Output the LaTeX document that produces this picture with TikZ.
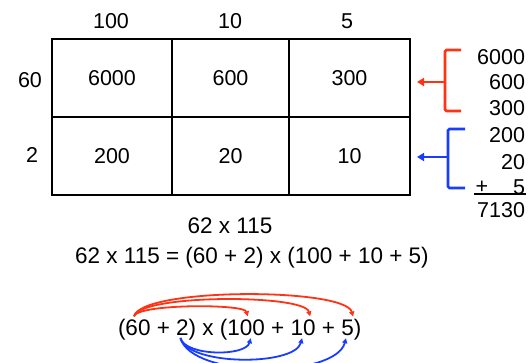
\documentclass[tikz,border=0pt]{standalone}
\usepackage{fontspec}
\setmainfont{Liberation Sans}
\usetikzlibrary{arrows.meta,calc}
\definecolor{rd}{RGB}{255,51,20}
\definecolor{bl}{RGB}{25,60,255}
\begin{document}
\begin{tikzpicture}[x=1pt,y=1pt,
  every node/.style={font=\fontsize{21.5}{25}\selectfont, inner sep=0pt, outer sep=0pt},
  big/.style={font=\fontsize{22.5}{26}\selectfont},
  cell/.style={draw, line width=2pt, minimum height=78pt},
  brk/.style={line width=2.8pt, rounded corners=1.5pt},
  tip/.style={-{Triangle[length=7pt,width=8pt]}},
  arc/.style={line width=1.8pt, -{Triangle[length=5pt,width=5pt]}},
  seg/.style={anchor=base west, big}]
\useasboundingbox (0,0) rectangle (529,-363);
% grid
\node[cell, minimum width=120pt] (c11) at (112,-78) {6000};
\node[cell, minimum width=117pt] (c12) at (230.5,-78) {600};
\node[cell, minimum width=121pt] (c13) at (349.5,-78) {300};
\node[cell, minimum width=120pt] (c21) at (112,-156) {200};
\node[cell, minimum width=117pt] (c22) at (230.5,-156) {20};
\node[cell, minimum width=121pt] (c23) at (349.5,-156) {10};
% headers
\node (h1) at (111,-21) {100};
\node (h2) at (230,-21) {10};
\node (h3) at (347,-21) {5};
\node (r1) at (30,-80) {60};
\node (r2) at (32,-155) {2};
% right column
\node[anchor=east] (t1) at (525,-57) {6000};
\node[anchor=east] (t2) at (525,-82) {600};
\node[anchor=east] (t3) at (525,-108) {300};
\node[anchor=east] (t4) at (525,-135) {200};
\node[anchor=east] (t5) at (525,-162) {20};
\node[anchor=east] (t6) at (525,-187) {5};
\node (tp) at (482,-187) {+};
\draw[line width=1.3pt] (474,-194) -- (526,-194);
\node[anchor=east] (tot) at (525,-210) {7130};
% brackets
\draw[rd, brk] (461,-50) -- (445,-50) -- (445,-111) -- (461,-111);
\coordinate (rb) at (445,-82);
\coordinate (ra) at (417,-82);
\draw[rd, line width=2.8pt, tip] (rb) -- (ra);
\draw[bl, brk] (465,-129) -- (448,-129) -- (448,-188) -- (465,-188);
\coordinate (bb) at (448,-157);
\coordinate (ba) at (417,-157);
\draw[bl, line width=2.8pt, tip] (bb) -- (ba);
% formulas
\node[big] (f1) at (230,-226) {62 x 115};
\node[big] (f2) at (252,-258) {62 x 115 = (60 + 2) x (100 + 10 + 5)};
% expression
\node[seg] (p1) at (118,-335) {(};
\node[seg] (s60) at (p1.base east) {60};
\node[seg] (pl1) at (s60.base east) {\ +\ \null};
\node[seg] (s2) at (pl1.base east) {2};
\node[seg] (mid) at (s2.base east) {)\ x\ (};
\node[seg] (s100) at (mid.base east) {100};
\node[seg] (pl2) at (s100.base east) {\ +\ \null};
\node[seg] (s10) at (pl2.base east) {10};
\node[seg] (pl3) at (s10.base east) {\ +\ \null};
\node[seg] (s5) at (pl3.base east) {5};
\node[seg] (p2) at (s5.base east) {)};
% red arcs
\draw[rd, arc] ([xshift=-4pt,yshift=3pt]s60.north) to[out=75,in=105,distance=13pt] ([xshift=1.5pt,yshift=3pt]s100.north);
\draw[rd, arc] ([xshift=-4pt,yshift=3pt]s60.north) to[out=75,in=105,distance=23pt] ([xshift=7pt,yshift=3pt]s10.north);
\draw[rd, arc] ([xshift=-4pt,yshift=3pt]s60.north) to[out=75,in=105,distance=30pt] ([xshift=5.5pt,yshift=3pt]s5.north);
% blue arcs
\draw[bl, arc] ([xshift=-2pt,yshift=-3pt]s2.south) to[out=-75,in=-105,distance=19pt] ([xshift=4.5pt,yshift=-3pt]s100.south);
\draw[bl, arc] ([xshift=-2pt,yshift=-3pt]s2.south) to[out=-75,in=-105,distance=29pt] ([xshift=-1pt,yshift=-3pt]s10.south);
\draw[bl, arc] ([xshift=-2pt,yshift=-3pt]s2.south) to[out=-75,in=-105,distance=42pt] ([xshift=-1.5pt,yshift=-3pt]s5.south);
\end{tikzpicture}
\end{document}
